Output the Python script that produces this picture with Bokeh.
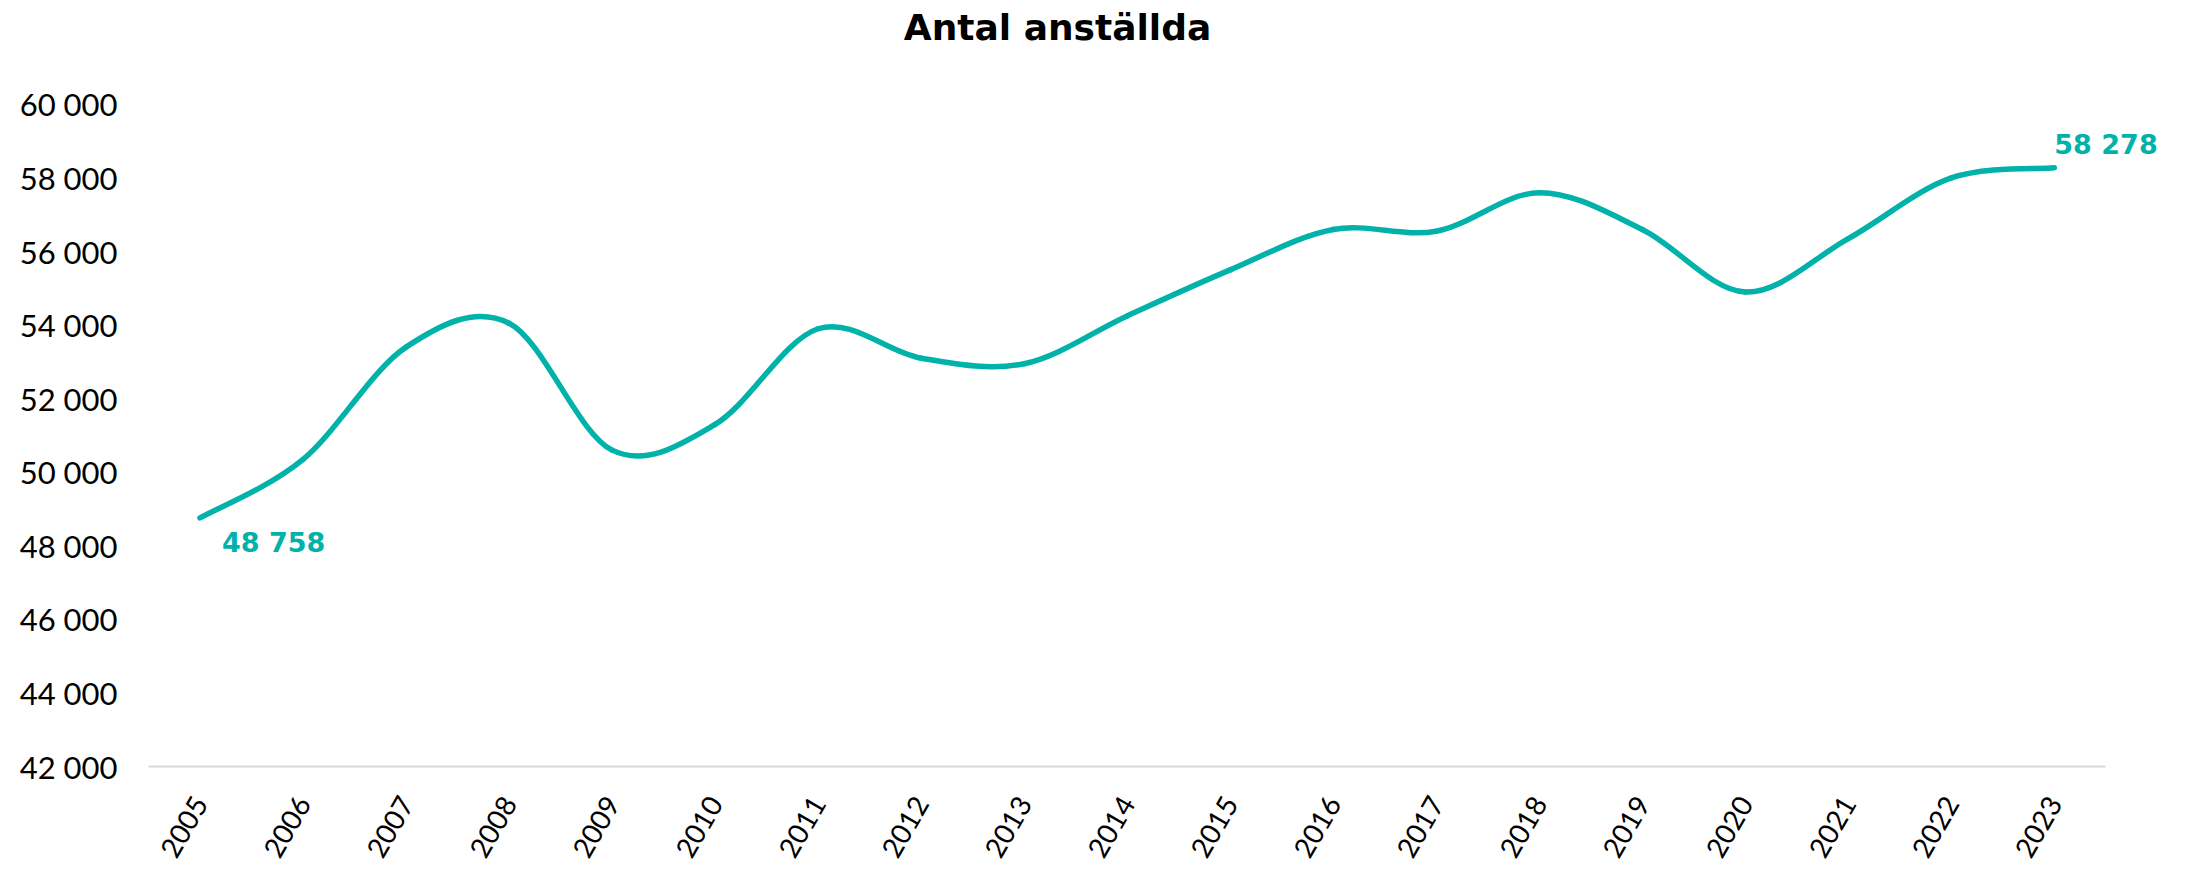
import math
from bokeh.plotting import figure
from bokeh.models import FixedTicker, Label, Range1d, ColumnDataSource
from bokeh.embed import file_html
from bokeh.resources import INLINE

# ---- data ----
years = ["2005", "2006", "2007", "2008", "2009", "2010", "2011", "2012", "2013",
         "2014", "2015", "2016", "2017", "2018", "2019", "2020", "2021", "2022", "2023"]
employees = [48758, 50350, 53400, 54050, 50600, 51300, 53900, 53100, 52950,
             54250, 55500, 56600, 56550, 57600, 56600, 54900, 56350, 58000, 58278]
y_ticks = [42000, 44000, 46000, 48000, 50000, 52000, 54000, 56000, 58000, 60000]
y_tick_labels = ["42 000", "44 000", "46 000", "48 000", "50 000",
                 "52 000", "54 000", "56 000", "58 000", "60 000"]
first_label = "48 758"
last_label = "58 278"
title_text = "Antal anställda"

TEAL = "#00B2A9"
FONT = "Lato"
BOLD_FONT = "DejaVu Sans"

# ---- smoothed line (Excel-style cubic Bezier through each data point) ----
n = len(years)
xs = list(range(n))
ys = employees
x0, y0, x1, y1, cx0, cy0, cx1, cy1 = [], [], [], [], [], [], [], []
for i in range(n - 1):
    ip = max(i - 1, 0)
    inn = min(i + 2, n - 1)
    x0.append(xs[i]); y0.append(ys[i])
    x1.append(xs[i + 1]); y1.append(ys[i + 1])
    cx0.append(xs[i] + (xs[i + 1] - xs[ip]) / 6.0)
    cy0.append(ys[i] + (ys[i + 1] - ys[ip]) / 6.0)
    cx1.append(xs[i + 1] - (xs[inn] - xs[i]) / 6.0)
    cy1.append(ys[i + 1] - (ys[inn] - ys[i]) / 6.0)
src = ColumnDataSource(dict(x0=x0, y0=y0, x1=x1, y1=y1, cx0=cx0, cy0=cy0, cx1=cx1, cy1=cy1))

# layout: plot area spans 663 px for the 42 000-60 000 tick span; keep 104 px of
# headroom above the top tick (for the title) and half a band on the right (end label)
frame_px_ticks = 663.0
headroom_px = 104.0
y_top = y_ticks[-1] + (y_ticks[-1] - y_ticks[0]) * headroom_px / frame_px_ticks
extra = 0.55

p = figure(width=2171, height=868, output_backend="svg", toolbar_location=None,
           x_range=Range1d(-0.5, n - 0.5 + extra), y_range=Range1d(y_ticks[0], y_top),
           min_border_left=148, min_border_right=9, min_border_top=0, min_border_bottom=101)
p.outline_line_color = None
p.xgrid.visible = False
p.ygrid.visible = False
p.background_fill_color = "white"
p.border_fill_color = "white"

p.bezier(x0="x0", y0="y0", x1="x1", y1="y1", cx0="cx0", cy0="cy0", cx1="cx1", cy1="cy1",
         source=src, line_color=TEAL, line_width=5.5, line_cap="round")

# x axis
p.xaxis.ticker = FixedTicker(ticks=xs)
p.xaxis.bounds = (-0.5, n - 0.5)
p.xaxis.major_label_overrides = {i: years[i] for i in range(n)}
p.xaxis.axis_line_color = "#D9D9D9"
p.xaxis.axis_line_width = 2
p.xaxis.major_tick_line_color = None
p.xaxis.minor_tick_line_color = None
p.xaxis.major_label_orientation = math.radians(60)
p.xaxis.major_label_text_font = FONT
p.xaxis.major_label_text_font_size = "28px"
p.xaxis.major_label_text_color = "#000000"
p.xaxis.major_label_standoff = 26

# y axis
p.yaxis.ticker = FixedTicker(ticks=y_ticks)
p.yaxis.major_label_overrides = {t: l for t, l in zip(y_ticks, y_tick_labels)}
p.yaxis.axis_line_color = None
p.yaxis.major_tick_line_color = None
p.yaxis.minor_tick_line_color = None
p.yaxis.major_label_text_font = FONT
p.yaxis.major_label_text_font_size = "31px"
p.yaxis.major_label_text_color = "#000000"
p.yaxis.major_label_standoff = 25

# data labels
p.add_layout(Label(x=xs[0], y=employees[0], text=first_label, x_offset=22, y_offset=-25,
                   text_align="left", text_baseline="middle", text_font=BOLD_FONT,
                   text_font_style="bold", text_font_size="27px", text_color=TEAL))
p.add_layout(Label(x=xs[-1], y=employees[-1], text=last_label, x_offset=0, y_offset=23,
                   text_align="left", text_baseline="middle", text_font=BOLD_FONT,
                   text_font_style="bold", text_font_size="27px", text_color=TEAL))

# title (screen units, measured from the plot area's bottom-left corner)
p.add_layout(Label(x=909, y=739, x_units="screen", y_units="screen", text=title_text,
                   text_align="center", text_baseline="alphabetic", text_font=BOLD_FONT,
                   text_font_style="bold", text_font_size="36px", text_color="#000000"))

open("out.html", "w").write(file_html(p, INLINE))
